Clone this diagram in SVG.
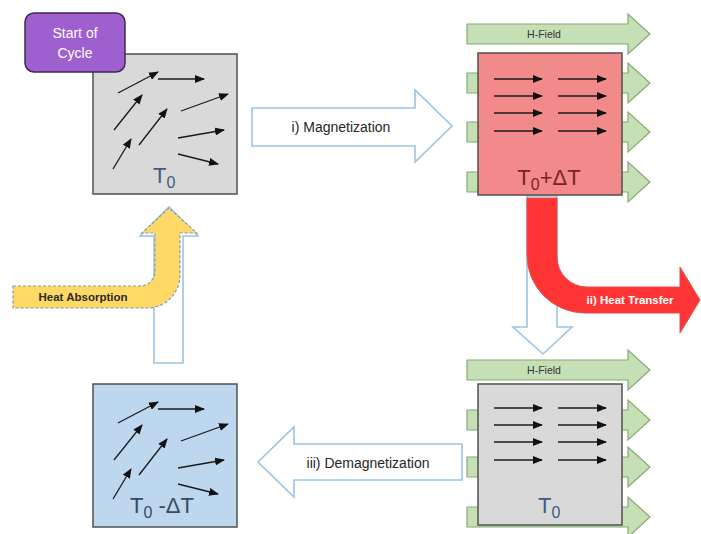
<svg xmlns="http://www.w3.org/2000/svg" width="701" height="534" viewBox="0 0 701 534">
<style>
text{font-family:"Liberation Sans",Arial,sans-serif}
.hollow{fill:#ffffff;stroke:#9dc3e6;stroke-width:1.6}
.grn{fill:#c5e0b4;stroke:#86a875;stroke-width:1.2}
.box{stroke:#505050;stroke-width:1.5}
.mag{stroke:#1a1a1a;stroke-width:1.3;fill:none;marker-end:url(#ah)}
.big{font-size:22px}
.lbl{font-size:14px;fill:#262626}
.hf{font-size:10.5px;fill:#333333;text-anchor:middle}
</style>
<defs>
<marker id="ah" viewBox="0 0 10 8" refX="9" refY="4" markerWidth="10" markerHeight="8" markerUnits="userSpaceOnUse" orient="auto">
<path d="M0,0 L10,4 L0,8 Z" fill="#111111"/>
</marker>
<g id="rand">
<path class="mag" d="M118,93 L158,72"/>
<path class="mag" d="M158,79 L204,79"/>
<path class="mag" d="M114,130 L142,95"/>
<path class="mag" d="M181,111 L228,94"/>
<path class="mag" d="M139,145 L167,109"/>
<path class="mag" d="M178,138 L224,130"/>
<path class="mag" d="M113,169 L131,139"/>
<path class="mag" d="M178,154 L218,164"/>
</g>
<g id="aligned">
<path class="mag" d="M494,0 L542,0"/>
<path class="mag" d="M558,0 L606,0"/>
<path class="mag" d="M494,17 L542,17"/>
<path class="mag" d="M558,17 L606,17"/>
<path class="mag" d="M494,34 L542,34"/>
<path class="mag" d="M558,34 L606,34"/>
<path class="mag" d="M494,52 L542,52"/>
<path class="mag" d="M558,52 L606,52"/>
</g>
<path id="garrow" class="grn" d="M467,-10 L628,-10 L628,-20 L650,0 L628,20 L628,10 L467,10 Z"/>
</defs>

<g id="connectors">
<g id="arrow-magnetization">
<path class="hollow" d="M252,108 L415,108 L415,90 L452,126 L415,162 L415,146 L252,146 Z"/>
<text class="lbl" x="341" y="132" text-anchor="middle">i) Magnetization</text>
</g>
<path class="hollow" d="M527,196 L557,196 L557,327 L572,327 L543,354 L513,327 L527,327 Z"/>
<g id="arrow-heat-transfer">
<path d="M527,198 L557,198 L557,257 A30,30 0 0 0 587,287 L680,287 L680,267 L700,300 L680,333 L680,313 L585,313 A58,58 0 0 1 527,255 Z" fill="#ff3535" stroke="#d9534f" stroke-width="1"/>
<text x="630" y="304" text-anchor="middle" font-size="11.5" font-weight="bold" fill="#ffffff">ii) Heat Transfer</text>
</g>
<g id="arrow-demagnetization">
<path class="hollow" d="M462,444 L294,444 L294,427 L258,462 L294,497 L294,480 L462,480 Z"/>
<text class="lbl" x="368" y="468" text-anchor="middle">iii) Demagnetization</text>
</g>
<path class="hollow" d="M154,363 L154,236 L140,236 L169,207 L198,236 L183,236 L183,363 Z"/>
<g id="arrow-heat-absorption">
<path d="M13,286 L140,286 A15,15 0 0 0 155,271 L155,233 L142,233 L169,208 L197,233 L180,233 L180,275 A33,33 0 0 1 147,308 L13,308 Z" fill="#ffd966" stroke="#8497b0" stroke-width="1.2" stroke-dasharray="3,2"/>
<text x="83" y="301" text-anchor="middle" font-size="11.5" font-weight="bold" fill="#2b2b2b">Heat Absorption</text>
</g>
</g>

<g id="node-t0-top">
<rect class="box" x="93" y="54" width="144" height="140" fill="#d9d9d9"/>
<use href="#rand"/>
<text class="big" x="153" y="183" fill="#3e5c85">T<tspan font-size="16" dy="5">0</tspan></text>
</g>

<g id="node-start">
<rect x="25" y="13" width="100" height="59" rx="9" fill="#9e5fcf" stroke="#3d2a52" stroke-width="1.5"/>
<text x="75" y="38" text-anchor="middle" font-size="14" fill="#ffffff">Start of</text>
<text x="75" y="58" text-anchor="middle" font-size="14" fill="#ffffff">Cycle</text>
</g>

<g id="node-hot">
<use href="#garrow" y="34"/>
<use href="#garrow" y="83"/>
<use href="#garrow" y="132"/>
<use href="#garrow" y="182"/>
<rect class="box" x="478" y="53" width="144" height="142" fill="#f28a8a"/>
<use href="#aligned" y="79"/>
<text class="big" x="549" y="185" text-anchor="middle" fill="#7a2323">T<tspan font-size="16" dy="5">0</tspan><tspan dy="-5">+ΔT</tspan></text>
<text class="hf" x="544" y="38">H-Field</text>
</g>

<g id="node-t0-bottom">
<use href="#garrow" y="370"/>
<use href="#garrow" y="420"/>
<use href="#garrow" y="467"/>
<use href="#garrow" y="517"/>
<rect class="box" x="478" y="384" width="144" height="141" fill="#d9d9d9"/>
<use href="#aligned" y="408"/>
<text class="big" x="538" y="513" fill="#3e5c85">T<tspan font-size="16" dy="5">0</tspan></text>
<text class="hf" x="544" y="374">H-Field</text>
</g>

<g id="node-cold">
<rect class="box" x="93" y="384" width="144" height="143" fill="#bdd7ee"/>
<use href="#rand" y="330"/>
<text class="big" x="130" y="513" fill="#3a4a5e">T<tspan font-size="16" dy="5">0</tspan><tspan dy="-5"> -ΔT</tspan></text>
</g>
</svg>
